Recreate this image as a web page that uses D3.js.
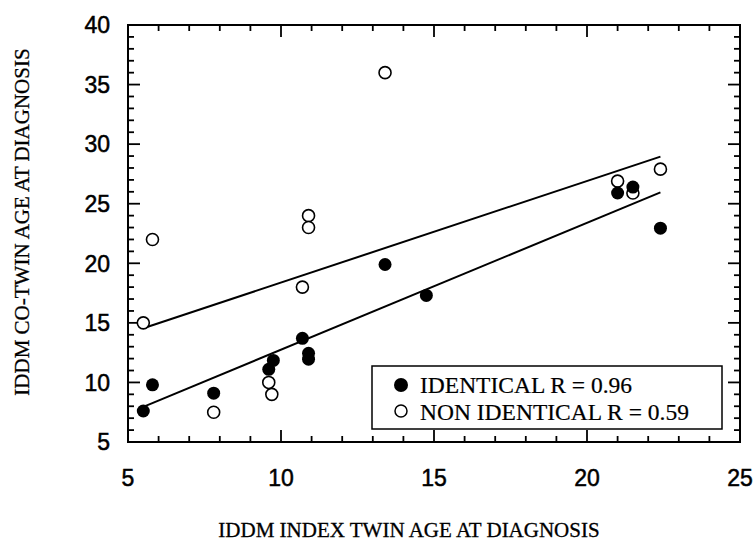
<!DOCTYPE html>
<html>
<head>
<meta charset="utf-8">
<script src="https://cdn.jsdelivr.net/npm/d3@7"></script>
<style>
  body { margin: 0; background: #fff; }
  svg { display: block; }
  .tick-label { font-family: Arial, "Liberation Sans", sans-serif; font-size: 23px; fill: #000; stroke: #000; stroke-width: 0.5px; }
  .title { font-family: "Times New Roman", "Liberation Serif", serif; font-size: 21px; fill: #000; stroke: #000; stroke-width: 0.3px; }
  .legend-text { font-family: "Times New Roman", "Liberation Serif", serif; font-size: 23.5px; fill: #000; stroke: #000; stroke-width: 0.2px; }
</style>
</head>
<body>
<div id="chart"></div>
<script>
// identical twins (filled)
var identX = [5.5, 5.8, 7.8, 9.6, 9.75, 10.7, 10.9, 10.9, 13.4, 14.75, 21.0, 21.5, 22.4];
var identY = [7.6, 9.8, 9.1, 11.1, 11.85, 13.7, 12.45, 11.95, 19.9, 17.3, 25.9, 26.4, 22.95];
// non identical twins (open)
var nonX = [5.5, 5.8, 7.8, 9.6, 9.7, 10.7, 10.9, 10.9, 13.4, 21.0, 21.5, 22.4];
var nonY = [15.0, 22.0, 7.5, 10.0, 9.0, 18.0, 24.0, 23.0, 36.0, 26.9, 25.9, 27.9];
// regression line end points
var fitX = [5.5, 22.4];
var identFit = [7.95, 25.95];
var nonFit = [14.55, 28.95];

var xTicks = [5, 10, 15, 20, 25];
var yTicks = [5, 10, 15, 20, 25, 30, 35, 40];

var W = 755, H = 542,
    margin = {top: 25, right: 15, bottom: 100, left: 128},
    width = W - margin.left - margin.right,
    height = H - margin.top - margin.bottom;

var svg = d3.select("#chart").append("svg")
    .attr("width", W)
    .attr("height", H);

var g = svg.append("g")
    .attr("transform", "translate(" + margin.left + "," + margin.top + ")");

var x = d3.scaleLinear().domain([5, 25]).range([0, width]);
var y = d3.scaleLinear().domain([5, 40]).range([height, 0]);

var xMinor = d3.range(5, 26, 1), yMinor = d3.range(5, 41, 1);

function tickLen(v) { return v % 5 === 0 ? 12 : 6; }

// inward ticks on all four sides
var ticks = g.append("g").attr("stroke", "#000").attr("stroke-width", 1.8);
xMinor.forEach(function (v) {
    ticks.append("line").attr("x1", x(v)).attr("x2", x(v)).attr("y1", height).attr("y2", height - tickLen(v));
    ticks.append("line").attr("x1", x(v)).attr("x2", x(v)).attr("y1", 0).attr("y2", tickLen(v));
});
yMinor.forEach(function (v) {
    ticks.append("line").attr("y1", y(v)).attr("y2", y(v)).attr("x1", 0).attr("x2", tickLen(v));
    ticks.append("line").attr("y1", y(v)).attr("y2", y(v)).attr("x1", width).attr("x2", width - tickLen(v));
});

g.append("rect")
    .attr("width", width).attr("height", height)
    .attr("fill", "none").attr("stroke", "#000").attr("stroke-width", 2);

g.selectAll(".xl").data(xTicks).enter().append("text")
    .attr("class", "tick-label")
    .attr("x", function (d) { return x(d); })
    .attr("y", height + 44)
    .attr("text-anchor", "middle")
    .text(function (d) { return d; });

g.selectAll(".yl").data(yTicks).enter().append("text")
    .attr("class", "tick-label")
    .attr("x", -18)
    .attr("y", function (d) { return y(d); })
    .attr("dy", "0.36em")
    .attr("text-anchor", "end")
    .text(function (d) { return d; });

// fit lines
var line = d3.line().x(function (d) { return x(d[0]); }).y(function (d) { return y(d[1]); });
g.append("path").datum(d3.zip(fitX, nonFit))
    .attr("d", line).attr("fill", "none").attr("stroke", "#000").attr("stroke-width", 2);
g.append("path").datum(d3.zip(fitX, identFit))
    .attr("d", line).attr("fill", "none").attr("stroke", "#000").attr("stroke-width", 2);

g.selectAll(".open").data(d3.zip(nonX, nonY)).enter().append("circle")
    .attr("cx", function (d) { return x(d[0]); })
    .attr("cy", function (d) { return y(d[1]); })
    .attr("r", 6)
    .attr("fill", "#fff").attr("stroke", "#000").attr("stroke-width", 1.6);

g.selectAll(".filled").data(d3.zip(identX, identY)).enter().append("circle")
    .attr("cx", function (d) { return x(d[0]); })
    .attr("cy", function (d) { return y(d[1]); })
    .attr("r", 6.5)
    .attr("fill", "#000");

// legend
var lg = svg.append("g").attr("transform", "translate(372,366)");
lg.append("rect").attr("width", 350).attr("height", 63)
    .attr("fill", "#fff").attr("stroke", "#000").attr("stroke-width", 1.5);
lg.append("circle").attr("cx", 29).attr("cy", 19).attr("r", 7).attr("fill", "#000");
lg.append("circle").attr("cx", 29).attr("cy", 45).attr("r", 6)
    .attr("fill", "#fff").attr("stroke", "#000").attr("stroke-width", 1.5);
lg.append("text").attr("class", "legend-text").attr("x", 48).attr("y", 27).text("IDENTICAL R = 0.96");
lg.append("text").attr("class", "legend-text").attr("x", 48).attr("y", 54).text("NON IDENTICAL R = 0.59");

// axis titles
svg.append("text").attr("class", "title")
    .attr("x", 409).attr("y", 537)
    .attr("text-anchor", "middle")
    .text("IDDM INDEX TWIN AGE AT DIAGNOSIS");

svg.append("text").attr("class", "title")
    .attr("transform", "translate(29,222) rotate(-90)")
    .attr("text-anchor", "middle")
    .text("IDDM CO-TWIN AGE AT DIAGNOSIS");
</script>
</body>
</html>
